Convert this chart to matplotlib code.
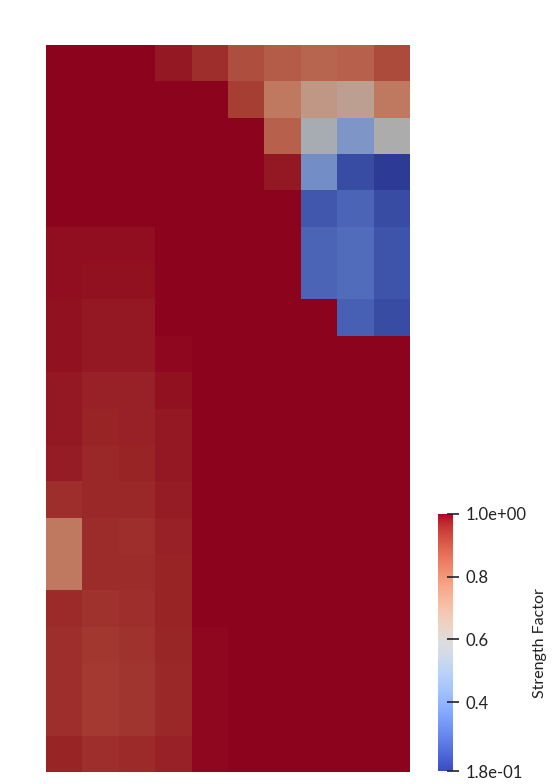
import numpy as np
import matplotlib
matplotlib.use("Agg")
import matplotlib.pyplot as plt
from matplotlib.colors import ListedColormap, Normalize
from matplotlib.cm import ScalarMappable

# strength factor per cell, top row first (10 columns x 20 rows)
strength = [
    [1.00, 1.00, 1.00, 0.98, 0.95, 0.89, 0.86, 0.84, 0.85, 0.90],
    [1.00, 1.00, 1.00, 1.00, 1.00, 0.92, 0.79, 0.70, 0.67, 0.79],
    [1.00, 1.00, 1.00, 1.00, 1.00, 1.00, 0.85, 0.57, 0.43, 0.59],
    [1.00, 1.00, 1.00, 1.00, 1.00, 1.00, 0.98, 0.40, 0.22, 0.18],
    [1.00, 1.00, 1.00, 1.00, 1.00, 1.00, 1.00, 0.25, 0.28, 0.22],
    [0.99, 0.99, 0.99, 1.00, 1.00, 1.00, 1.00, 0.28, 0.30, 0.24],
    [0.99, 0.985, 0.985, 1.00, 1.00, 1.00, 1.00, 0.28, 0.30, 0.24],
    [0.985, 0.98, 0.98, 1.00, 1.00, 1.00, 1.00, 1.00, 0.27, 0.22],
    [0.985, 0.978, 0.978, 0.995, 1.00, 1.00, 1.00, 1.00, 1.00, 1.00],
    [0.98, 0.97, 0.97, 0.985, 1.00, 1.00, 1.00, 1.00, 1.00, 1.00],
    [0.98, 0.965, 0.97, 0.98, 1.00, 1.00, 1.00, 1.00, 1.00, 1.00],
    [0.975, 0.96, 0.965, 0.98, 1.00, 1.00, 1.00, 1.00, 1.00, 1.00],
    [0.95, 0.96, 0.96, 0.975, 1.00, 1.00, 1.00, 1.00, 1.00, 1.00],
    [0.79, 0.955, 0.95, 0.97, 1.00, 1.00, 1.00, 1.00, 1.00, 1.00],
    [0.79, 0.955, 0.955, 0.965, 1.00, 1.00, 1.00, 1.00, 1.00, 1.00],
    [0.957, 0.945, 0.95, 0.965, 1.00, 1.00, 1.00, 1.00, 1.00, 1.00],
    [0.95, 0.935, 0.945, 0.962, 0.995, 1.00, 1.00, 1.00, 1.00, 1.00],
    [0.95, 0.93, 0.942, 0.96, 0.995, 1.00, 1.00, 1.00, 1.00, 1.00],
    [0.95, 0.93, 0.94, 0.96, 0.995, 1.00, 1.00, 1.00, 1.00, 1.00],
    [0.965, 0.95, 0.958, 0.97, 0.995, 1.00, 1.00, 1.00, 1.00, 1.00],
]
vmin, vmax = 0.18, 1.0
cbar_ticks = [1.0, 0.8, 0.6, 0.4, 0.18]
cbar_labels = ["1.0e+00", "0.8", "0.6", "0.4", "1.8e-01"]
cbar_title = "Strength Factor"

base = plt.get_cmap("coolwarm")
# surface looks shaded in the render, so darken the cell colours a bit
shaded = base(np.linspace(0, 1, 256))
shaded[:, :3] *= 0.78
shaded_cmap = ListedColormap(shaded)

data = np.array(strength)
fig = plt.figure(figsize=(5.54, 7.84), dpi=100)
W, H = 554, 784

ax = fig.add_axes([46 / W, (H - 772) / H, 364 / W, 727 / H])
ax.pcolormesh(data, cmap=shaded_cmap, vmin=vmin, vmax=vmax)
ax.set_xlim(0, data.shape[1])
ax.set_ylim(data.shape[0], 0)
ax.axis("off")

cax = fig.add_axes([438 / W, (H - 771) / H, 15 / W, 257 / H])
norm = Normalize(vmin=vmin, vmax=vmax)
cb = fig.colorbar(ScalarMappable(norm=norm, cmap=base), cax=cax)
cb.outline.set_visible(False)
cb.set_ticks(cbar_ticks)
cb.set_ticklabels(cbar_labels)
cax.tick_params(axis="y", length=8, width=1.2, color="#222222", direction="inout",
                pad=5, labelsize=12, labelcolor="#222222")
for lbl in cax.get_yticklabels():
    lbl.set_family("Lato")

fig.text(540 / W, 1 - 643 / H, cbar_title, rotation=90, ha="center", va="center",
         fontsize=11.5, color="#222222", family="Lato")

fig.savefig("out.png", dpi=100)
